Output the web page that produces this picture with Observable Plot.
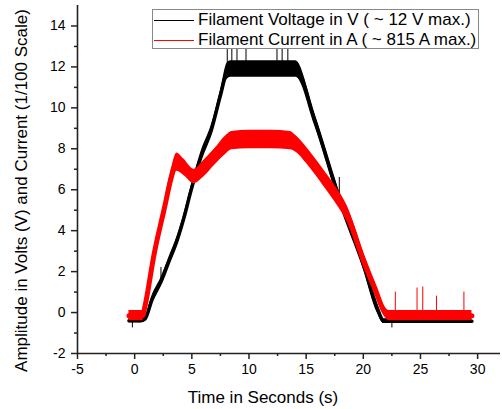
<!DOCTYPE html>
<html><head><meta charset="utf-8">
<script src="https://cdn.jsdelivr.net/npm/d3@7"></script>
<script src="https://cdn.jsdelivr.net/npm/@observablehq/plot@0.6"></script>
<style>
body{margin:0;background:#fff;font-family:"Liberation Sans",Arial,sans-serif;}
#wrap{position:relative;width:502px;height:409px;}
#legend{position:absolute;left:152px;top:9px;width:327px;height:40px;border:1px solid #888;background:#fff;box-sizing:border-box;font-size:17px;color:#000;}
.row{position:absolute;left:0;height:20px;display:flex;align-items:center;white-space:nowrap;}
.sw{display:block;flex:none;width:40px;height:1px;margin-left:1px;margin-right:4px;}
</style></head><body><div id="wrap"></div>
<script>
// Axes
const xDomain = [-5, 32];
const yDomain = [-2, 15];
const xMajor = [-5, 0, 5, 10, 15, 20, 25, 30];
const xMinor = [-2.5, 2.5, 7.5, 12.5, 17.5, 22.5, 27.5];
const yMajor = [-2, 0, 2, 4, 6, 8, 10, 12, 14];
const yMinor = [-1, 1, 3, 5, 7, 9, 11, 13];
const xTitle = "Time in Seconds (s)";
const yTitle = "Amplitude in Volts (V) and Current (1/100 Scale)";
const seriesNames = ["Filament Voltage in V ( ~ 12 V max.)", "Filament Current in A ( ~ 815 A max.)"];
const seriesColors = ["#000000", "#ff0000"];

// Filament voltage (black): centre of trace and half-width of noise band
const vTime   = [-0.5, 0.0, 0.5, 0.9, 1.5, 2.3, 3.0, 3.7, 4.3, 4.9, 5.8, 6.7, 7.5, 8.1, 8.4, 11.0, 14.1, 15.7, 17.9, 20.0, 21.2, 21.8, 29.5];
const vMid    = [-0.4, -0.4, -0.4, -0.32, 0.6, 1.5, 2.5, 3.5, 4.6, 5.9, 7.6, 8.9, 10.6, 11.8, 11.9, 11.9, 11.9, 9.5, 5.6, 2.4, 0.25, -0.42, -0.42];
const vSpread = [0.1, 0.1, 0.1, 0.12, 0.2, 0.2, 0.2, 0.2, 0.2, 0.2, 0.25, 0.25, 0.25, 0.4, 0.4, 0.4, 0.4, 0.3, 0.3, 0.3, 0.25, 0.12, 0.12];
// Voltage spikes
const vSpikeT  = [-0.2, 2.3, 8.1, 8.5, 8.95, 9.74, 12.45, 12.9, 13.4, 17.9, 22.5];
const vSpikeLo = [-0.75, 1.5, 12.2, 12.2, 12.2, 12.2, 12.2, 12.2, 12.2, 5.6, -0.75];
const vSpikeHi = [-0.4, 2.2, 13.5, 13.5, 13.5, 13.5, 13.5, 13.5, 13.5, 6.6, -0.4];

// Filament current (red, 1/100 scale)
const cTime   = [-0.5, 0.7, 0.9, 1.7, 2.6, 3.2, 3.7, 4.3, 5.2, 6.0, 7.0, 8.0, 8.5, 10.0, 12.0, 13.6, 14.2, 15.0, 15.7, 16.5, 17.4, 18.6, 20.0, 21.0, 21.8, 22.3, 29.5];
const cMid    = [-0.15, -0.15, 0.3, 2.85, 5.1, 6.6, 7.35, 7.1, 6.65, 7.0, 7.6, 8.2, 8.4, 8.45, 8.45, 8.4, 8.2, 7.7, 7.2, 6.6, 5.9, 4.8, 2.6, 1.2, 0.1, -0.15, -0.15];
const cSpread = [0.25, 0.25, 0.25, 0.25, 0.3, 0.4, 0.45, 0.4, 0.35, 0.4, 0.4, 0.45, 0.45, 0.45, 0.45, 0.45, 0.4, 0.4, 0.4, 0.4, 0.4, 0.4, 0.35, 0.3, 0.25, 0.25, 0.25];
// Current spikes
const cSpikeT  = [22.8, 24.7, 25.2, 26.4, 28.8];
const cSpikeLo = [0, 0, 0, 0, 0];
const cSpikeHi = [1.0, 1.2, 1.25, 0.8, 1.0];

const volt = vTime.map((t, i) => ({t, mid: vMid[i], lo: vMid[i] - vSpread[i], hi: vMid[i] + vSpread[i]}));
const curr = cTime.map((t, i) => ({t, mid: cMid[i], lo: cMid[i] - cSpread[i], hi: cMid[i] + cSpread[i]}));
const vSpikes = vSpikeT.map((t, i) => ({t, y1: vSpikeLo[i], y2: vSpikeHi[i]}));
const cSpikes = cSpikeT.map((t, i) => ({t, y1: cSpikeLo[i], y2: cSpikeHi[i]}));

const axisColor = "#222";
const crv = "monotone-x";
const chart = Plot.plot({
  width: 502, height: 409,
  marginLeft: 77, marginRight: 2, marginTop: 5, marginBottom: 56,
  x: {domain: xDomain},
  y: {domain: yDomain},
  style: {fontFamily: "'Liberation Sans', Arial, sans-serif", fontSize: "14px", color: "#000", background: "#fff", overflow: "visible"},
  marks: [
    Plot.areaY(volt, {x: "t", y1: "lo", y2: "hi", fill: seriesColors[0], curve: crv}),
    Plot.line(volt, {x: "t", y: "mid", stroke: seriesColors[0], strokeWidth: 3.5, curve: crv}),
    Plot.ruleX(vSpikes, {x: "t", y1: "y1", y2: "y2", stroke: seriesColors[0], strokeWidth: 1}),
    Plot.areaY(curr, {x: "t", y1: "lo", y2: "hi", fill: seriesColors[1], curve: crv}),
    Plot.line(curr, {x: "t", y: "mid", stroke: seriesColors[1], strokeWidth: 5, curve: crv}),
    Plot.ruleX(cSpikes, {x: "t", y1: "y1", y2: "y2", stroke: seriesColors[1], strokeWidth: 1}),
    Plot.ruleX([xDomain[0]], {stroke: axisColor, strokeWidth: 1.6}),
    Plot.ruleY([yDomain[0]], {stroke: axisColor, strokeWidth: 1.6}),
    Plot.axisX({ticks: xMajor, tickSize: 6, tickPadding: 5, tickFormat: d => String(d), label: null, stroke: axisColor, strokeWidth: 1.5, fontSize: 14}),
    Plot.axisX({ticks: xMinor, tickSize: 3, tickFormat: () => "", label: null, stroke: axisColor, strokeWidth: 1.5}),
    Plot.axisY({ticks: yMajor, tickSize: 6, tickPadding: 6, tickFormat: d => String(d), label: null, stroke: axisColor, strokeWidth: 1.5, fontSize: 14}),
    Plot.axisY({ticks: yMinor, tickSize: 3, tickFormat: () => "", label: null, stroke: axisColor, strokeWidth: 1.5}),
    Plot.text([xTitle], {text: d => d, frameAnchor: "bottom", textAnchor: "middle", dx: -26, dy: 44, fontSize: 17, lineAnchor: "middle"}),
    Plot.text([yTitle], {text: d => d, frameAnchor: "left", textAnchor: "middle", rotate: -90, dx: -56, dy: 11, fontSize: 17, lineAnchor: "middle"})
  ]
});
const wrap = document.getElementById("wrap");
wrap.appendChild(chart);

const legend = document.createElement("div");
legend.id = "legend";
seriesNames.forEach((name, i) => {
  const row = document.createElement("div");
  row.className = "row";
  row.style.top = (i * 20) + "px";
  const sw = document.createElement("span");
  sw.className = "sw";
  sw.style.background = seriesColors[i];
  const tx = document.createElement("span");
  tx.textContent = name;
  row.appendChild(sw); row.appendChild(tx);
  legend.appendChild(row);
});
wrap.appendChild(legend);
</script></body></html>
